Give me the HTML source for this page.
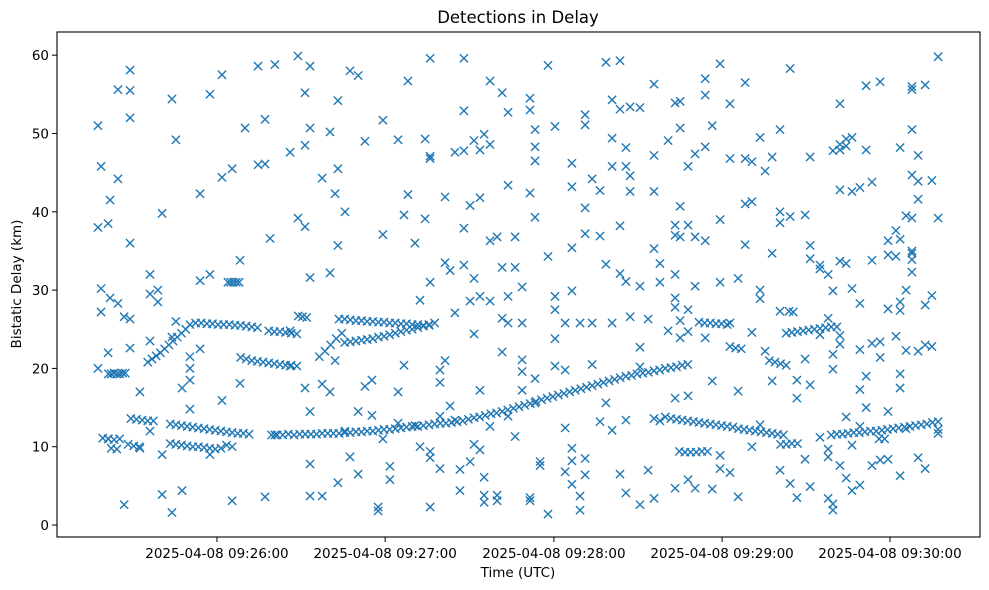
<!DOCTYPE html>
<html><head><meta charset="utf-8"><style>
html,body{margin:0;padding:0;background:#fff;}
svg{display:block;font-family:"DejaVu Sans","Liberation Sans",sans-serif;}
</style></head><body>
<svg id="chart" width="989" height="590" viewBox="0 0 989 590" xmlns="http://www.w3.org/2000/svg">
<rect width="989" height="590" fill="#fff"/>
<text x="518" y="23" text-anchor="middle" font-size="16.5">Detections in Delay</text>
<text x="518" y="577" text-anchor="middle" font-size="13.5">Time (UTC)</text>
<text transform="translate(21,284) rotate(-90)" text-anchor="middle" font-size="13.5">Bistatic Delay (km)</text>
<g id="marks"></g>
<g id="axes"></g>
<rect x="57" y="32" width="923" height="505" fill="none" stroke="#000" stroke-width="1.1"/>
</svg>
<script>
// time values: seconds after 09:24:55.4 UTC
const yTicks = [0, 10, 20, 30, 40, 50, 60];
const xTickTimes = [64.6, 124.4, 184.4, 244.2, 303.9];
const xTickLabels = ["2025-04-08 09:26:00","2025-04-08 09:27:00","2025-04-08 09:28:00","2025-04-08 09:29:00","2025-04-08 09:30:00"];

// dense tracks: [time, km]
const trackPoints = [
[26,19.3],[27,19.3],[28,19.4],[29,19.3],[30,19.3],[31,19.4],[32,19.4],
[40,20.8],[41.5,21.2],[43,21.6],[44.5,22.0],[46,22.5],[47.5,23.0],[49,23.5],[50.5,24.0],[52,24.5],[53.5,25.0],[55,25.6],[57,25.8],[59,25.8],[61,25.7],[63,25.7],[65,25.6],[67,25.6],[69,25.6],[71,25.5],[73,25.5],[75,25.4],[77,25.3],[79,25.2],
[68.5,31],[69.5,31],[70.5,31],[71.5,31],[72.5,31],
[73,21.4],[75,21.2],[77,21.0],[79,20.9],[81,20.8],[83,20.7],[85,20.6],[87,20.5],[89,20.4],[91,20.4],[93,20.3],
[34,13.6],[36,13.5],[38,13.4],[40,13.3],[42,13.3],[48,12.9],[50,12.8],[52,12.7],[54,12.6],[56,12.5],[58,12.4],[60,12.3],[62,12.2],[64,12.1],[66,12.0],[68,11.9],[70,11.8],[72,11.7],[74,11.7],[76,11.6],
[24,11.1],[26,11.0],[28,10.9],[30,11.0],[27,9.8],[29,9.7],[33,10.3],[35,10.1],[37,10.0],
[48,10.4],[50,10.3],[52,10.2],[54,10.1],[56,10.0],[58,10.0],[60,9.9],[62,9.8],[64,9.7],[66,9.8],[68,10.2],[70,10.0],
[83,24.8],[85,24.7],[87,24.7],[89,24.6],[91,24.5],[93,24.4],
[93.5,26.7],[95,26.6],[96.5,26.5],
[101,21.5],[103,22.2],[105,23.0],[107,23.8],[109,24.5],
[108,26.3],[110,26.3],[112,26.2],[114,26.1],[116,26.1],[118,26.0],[120,26.0],[122,25.9],[124,25.9],[126,25.8],[128,25.8],[130,25.7],[132,25.7],[134,25.6],[136,25.6],[138,25.5],[140,25.5],
[110,23.3],[112,23.4],[114,23.5],[116,23.6],[118,23.7],[120,23.8],[122,24.0],[124,24.1],[126,24.3],[128,24.5],[130,24.7],[132,24.9],[134,25.0],[136,25.2],[138,25.4],[140,25.6],[142,25.8],
[84,11.5],[86,11.5],[88,11.5],[90,11.6],[92,11.5],[94,11.6],[96,11.6],[98,11.6],[100,11.6],[102,11.7],[104,11.7],[106,11.7],[108,11.7],[110,11.8],[112,11.8],[114,11.9],[116,11.9],[118,12.0],[120,12.0],[122,12.1],[124,12.2],[126,12.2],[128,12.3],[130,12.4],[132,12.5],[134,12.6],[136,12.6],[138,12.7],[140,12.8],[142,12.9],[144,13.0],[146,13.0],[148,13.1],[150,13.2],[152,13.3],[154,13.5],[156,13.7],[158,13.8],[160,14.0],[162,14.2],[164,14.3],[166,14.5],[168,14.7],[170,14.9],[172,15.1],[174,15.3],[176,15.5],[178,15.8],[180,16.0],[182,16.2],[184,16.4],[186,16.6],[188,16.8],[190,17.0],[192,17.2],[194,17.4],[196,17.6],[198,17.8],[200,18.0],[202,18.2],[204,18.4],[206,18.6],[208,18.8],[210,19.0],[212,19.1],[214,19.3],[216,19.4],[218,19.5],[220,19.7],[222,19.8],[224,20.0],[226,20.1],[228,20.2],[230,20.4],[232,20.5],
[224,13.8],[226,13.6],[228,13.5],[230,13.4],[232,13.3],[234,13.2],[236,13.1],[238,13.0],[240,12.9],[242,12.8],[244,12.7],[246,12.6],[248,12.5],[250,12.3],[252,12.2],[254,12.1],[256,12.0],[258,11.9],[260,11.8],[262,11.7],[264,11.6],[266,11.5],
[229,9.4],[231,9.3],[233,9.3],[235,9.3],[237,9.4],[239,9.4],
[236,25.9],[238,25.8],[240,25.8],[242,25.7],[244,25.7],[246,25.6],[247,22.8],[249,22.6],[251,22.5],
[261,21.0],[263,20.8],[265,20.6],[267,20.4],
[267,24.5],[269,24.6],[271,24.7],[273,24.8],[275,24.9],[277,25.0],[279,25.1],[281,25.2],[283,25.3],[285,25.3],[268,27.3],[269.5,27.2],
[265,10.3],[267,10.3],[269,10.4],[271,10.4],
[283,11.5],[285,11.6],[287,11.6],[289,11.7],[291,11.8],[293,11.8],[295,11.9],[297,12.0],[299,12.0],[301,12.1],[303,12.2],[305,12.3],[307,12.4],[309,12.5],[311,12.6],[313,12.7],[315,12.8],[317,12.9],[319,13.1],[321,13.2],[300,11.0],[302,11.0]
];

// isolated detections: [time, km, km, ...]
const scatterGroups = [
[22.3,51,38,20],[23.4,45.8,30.2,27.2],[25.9,38.5,22,11],[26.6,41.5,29],[29.4,55.6,28.3,44.2],[31.6,26.6,2.6],
[33.7,58.1,55.5,52,36,26.3,22.6],[37.2,17,9.8],[40.8,32,29.5,23.5,12],[43.6,30,28.5],[45.1,39.8,3.9,9],
[48.6,54.4,1.6,24],[50.0,49.2,26],[52.2,4.4,17.5],[55.0,21.5,14.8,20,18.5],[58.6,42.3,31.2,22.5],[62.1,55,32,9],
[66.4,44.4,57.5,15.9],[70.0,45.5,3.1],[72.8,33.8,18.1],[74.6,50.7],[79.2,58.6,46],[81.7,51.8,46.1,3.6],[83.5,36.6],
[85.2,58.8,11.5],[90.6,47.6,24.8,20.3],[93.4,59.9,39.2],[95.9,55.2,38.1,48.5,17.5],[97.7,58.6,50.7,31.6,7.8,3.7,14.5],
[102.0,44.3,3.7,18],[104.8,50.2,32.2,17],[106.6,42.3,21],[107.6,54.2,45.5,35.7,5.4],[110.1,40,12],[111.9,58,8.7],
[114.8,57.4,6.5,14.5],[117.2,49,17.7],[119.7,18.5,14],[121.9,2.3,1.8],[123.6,51.7,37.1,11],[126.1,7.5,5.8],
[129.0,49.2,17,13],[131.1,39.6,20.4],[132.5,56.7,42.2],[135.0,36,12.7],[136.8,28.7,10],[138.6,49.3,39.1],
[140.4,59.6,47.1,46.8,2.3,8.6,9.4,31],[143.9,18.2,19.8,13.9,7.2],[145.7,33.5,41.9,21],[147.5,32.5,15.2],
[149.2,47.6,13.4,27.1],[151.0,7.1,4.4],[152.4,59.6,52.9,47.8,37.9,33.2],[154.6,40.8,28.6,8.1],[156.0,31.5,49.1,24.4,10.3],
[158.1,47.9,41.8,29.2,17.2,9.6],[159.6,49.9,2.9,3.8,6.1],[161.7,56.7,48.6,36.3,28.6,12.6],[164.2,36.8,3.1,3.8],
[166.0,55.2,32.9,26.4,22.1],[168.1,52.7,43.4,29.2,25.8,13.9],[170.6,36.8,32.9,11.3],[173.1,30.4,25.8,21.1,17.2,19.6],
[175.9,53,42.4,54.5,3.5,3.1],[177.7,50.5,48.3,39.3,46.5,18.7,15.6],[179.5,8.1,7.6],[182.3,58.7,34.3,1.4],
[184.8,50.9,27.5,29.2,23.8,20.3],[188.4,19.8,25.8,12.4,6.8],[190.8,46.2,43.2,35.4,29.9,8.2,5.2,9.8],[193.7,25.8,1.9,3.7],
[195.5,52.4,51.1,37.2,40.5,8.5,6.4],[198.0,44.2,25.8,20.5],[200.8,42.7,36.9,13.2],[202.9,59.1,33.3,15.6],
[205.1,49.4,54.3,45.8,25.8,12.1],[207.9,59.3,53.1,38.2,32.1,6.5],[210.0,48.2,45.8,31.1,13.4,4.1],[211.5,53.4,44.6,42.6,26.6],
[215.0,53.3,2.6,22.7,20.2,30.5],[217.9,7,26.3],[220.0,56.3,47.2,42.6,35.3,13.6,3.4],[222.1,33.4,31,13.3],[225.0,49.1,24.8],
[227.5,53.9,38.3,37,32,29,27.8,16.2,4.7],[229.3,54.1,50.7,40.7,36.8,26.1,23.9],[232.1,45.8,38.3,24.7,16.5,5.8,27.5],
[234.6,47.4,36.8,30.5,4.7],[238.2,57,54.9,48.3,36.3,23.9],[240.7,51,18.4,4.6],[243.5,58.9,39,31,7.2,8.9],
[247.0,53.8,46.8,25.8,6.7],[249.9,31.5,17.1,3.6],[252.4,56.5,46.8,41,35.8],[254.8,46.4,41.3,24.6,10],
[257.7,30,28.9,49.5,12.8],[259.5,45.2,22.2],[262.0,47,34.7,18.4],[264.8,50.5,40,38.6,27.3,7],[268.4,58.3,39.4,5.3],
[270.8,3.5,16.2,18.5],[273.7,39.6,8.4,21.2],[275.5,47,34,17.9,35.7,4.9],[279.0,33.2,24.3,32.7,11.2],
[281.9,26.4,32,8.7,9.7,3.4],[283.6,47.8,21.8,29.9,19.9,1.9,2.7],[286.1,47.9,48.6,53.8,42.8,33.7,23.1,24.2,7.6],
[288.3,49.3,48.4,33.4,13.8,6],[290.4,49.5,42.6,30.2,10.2,4.4],[293.2,43.1,28.3,22.4,17.3,12.6,5.1],[295.4,56.1,47.9,19,15],
[297.5,43.8,33.8,23.2,7.6],[300.4,56.6,23.4,21.4,8.3],[303.2,36.3,34.5,27.6,14.5,8.4],[306.0,37.6,34.3,24.1],
[307.5,48.2,36.5,28.5,27.4,19.3,17.5,6.3],[309.6,39.5,30,22.3,12.3],[311.7,56,55.6,50.5,44.7,34.7,35,32.3,33.9,39.2],
[313.9,47.2,43.9,41.6,8.6,22.2],[316.4,56.2,23,28.1,7.2],[318.8,44,29.3,22.8],[321.0,59.8,39.2,12.2,11.7]
];

const X0 = 57, X1 = 980, Y0 = 32, Y1 = 537;
const tMin = 7.73, tMax = 335.9, kMin = -1.53, kMax = 62.96;
function xScale(t){ return X0 + (t - tMin) / (tMax - tMin) * (X1 - X0); }
function yScale(k){ return Y1 - (k - kMin) / (kMax - kMin) * (Y1 - Y0); }
const NS = "http://www.w3.org/2000/svg";
const marks = document.getElementById("marks");
const axes = document.getElementById("axes");

function addMarker(t, k){
  const x = xScale(t), y = yScale(k), h = 4.1;
  const p = document.createElementNS(NS, "path");
  p.setAttribute("d", `M${x-h},${y-h}L${x+h},${y+h}M${x-h},${y+h}L${x+h},${y-h}`);
  p.setAttribute("stroke", "#1f77b4");
  p.setAttribute("stroke-width", "1.4");
  p.setAttribute("fill", "none");
  
  
  marks.appendChild(p);
}
trackPoints.forEach(pt => addMarker(pt[0], pt[1]));
scatterGroups.forEach(g => { for (let i = 1; i < g.length; i++) addMarker(g[0], g[i]); });

yTicks.forEach(v => {
  const y = yScale(v);
  const l = document.createElementNS(NS, "line");
  l.setAttribute("x1", X0 - 5); l.setAttribute("x2", X0);
  l.setAttribute("y1", y); l.setAttribute("y2", y);
  l.setAttribute("stroke", "#000"); l.setAttribute("stroke-width", "1");
  
  
  axes.appendChild(l);
  const tx = document.createElementNS(NS, "text");
  tx.setAttribute("x", X0 - 8); tx.setAttribute("y", y + 5);
  tx.setAttribute("text-anchor", "end"); tx.setAttribute("font-size", "13.5");
  tx.textContent = v;
  
  
  axes.appendChild(tx);
});
xTickTimes.forEach((t, i) => {
  const x = xScale(t);
  const l = document.createElementNS(NS, "line");
  l.setAttribute("x1", x); l.setAttribute("x2", x);
  l.setAttribute("y1", Y1); l.setAttribute("y2", Y1 + 5);
  l.setAttribute("stroke", "#000"); l.setAttribute("stroke-width", "1");
  
  
  axes.appendChild(l);
  const tx = document.createElementNS(NS, "text");
  tx.setAttribute("x", x); tx.setAttribute("y", Y1 + 21);
  tx.setAttribute("text-anchor", "middle"); tx.setAttribute("font-size", "13.5");
  tx.textContent = xTickLabels[i];
  
  
  axes.appendChild(tx);
});
</script>
</body></html>
